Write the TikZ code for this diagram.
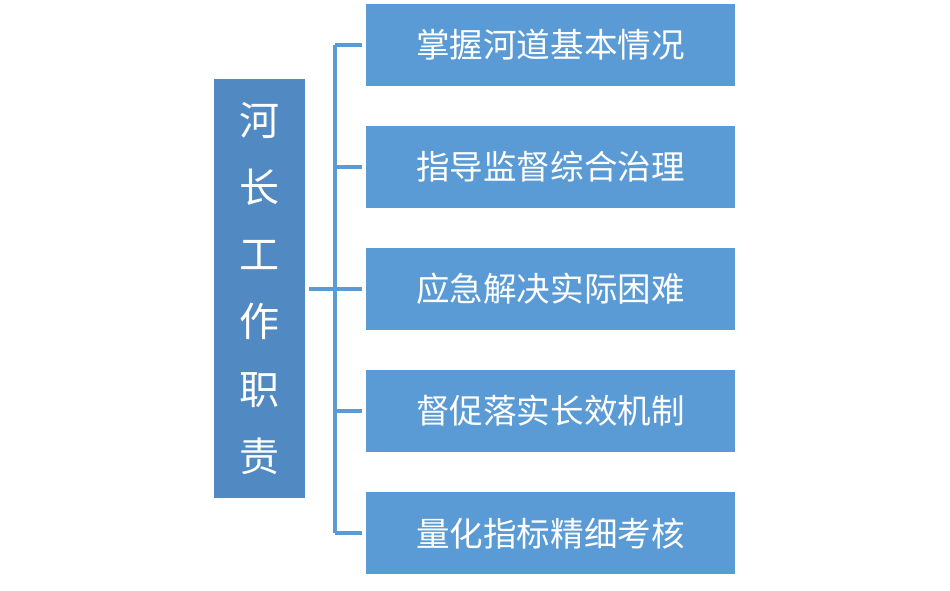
\documentclass[tikz,border=0pt]{standalone}
\usepackage{fontspec}
\setmainfont{Noto Sans CJK SC}
\usetikzlibrary{positioning}
\definecolor{boxblue}{HTML}{5B9BD5}
\definecolor{mainblue}{HTML}{5189C2}
\tikzstyle{task} = [rectangle, fill=boxblue, text=white, minimum width=7.38cm,
    minimum height=1.64cm, inner sep=0pt, font=\fontsize{19.1}{22}\selectfont]
\tikzstyle{duty} = [rectangle, fill=mainblue, text=white, minimum width=1.82cm,
    minimum height=8.38cm, inner sep=0pt, align=center, font=\fontsize{22.8}{38.2}\selectfont]
\tikzstyle{line} = [draw=boxblue, line width=0.08cm]

\begin{document}
\begin{tikzpicture}[node distance=0.79cm]
	\useasboundingbox (0,0) rectangle (19,-11.8);

		\node [duty] (role) at (5.19,-5.77) {河\\长\\工\\作\\职\\责};

		\node [task] (t1) at (11.01,-0.89) {掌握河道基本情况};
		\node [task, below=of t1] (t2) {指导监督综合治理};
		\node [task, below=of t2] (t3) {应急解决实际困难};
		\node [task, below=of t3] (t4) {督促落实长效机制};
		\node [task, below=of t4] (t5) {量化指标精细考核};

		\coordinate (trunk) at (6.7,0 |- t3);

		\path [line, shorten <=0.08cm, shorten >=0.08cm] (role.east |- t3) -- (t3.west);
		\path [line] (trunk |- t1) -- (trunk |- t5);

		\foreach \k in {1,2,4,5}
			\path [line, shorten >=0.08cm] (trunk |- t\k) -- (t\k.west);
\end{tikzpicture}
\end{document}
